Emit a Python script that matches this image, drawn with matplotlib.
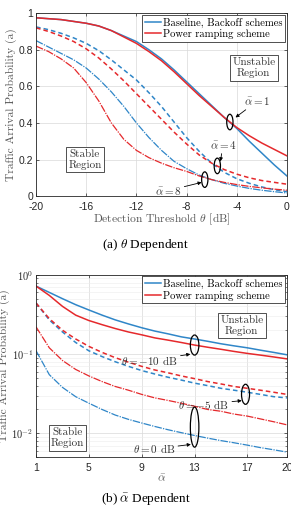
import numpy as np
import matplotlib
matplotlib.use("Agg")
import matplotlib.pyplot as plt
from matplotlib.patches import Ellipse
from matplotlib.ticker import FixedLocator, LogLocator, NullFormatter, FuncFormatter

plt.rcParams["mathtext.fontset"] = "cm"
plt.rcParams["axes.unicode_minus"] = False

BLUE = "#2f86c8"
RED = "#e5292c"
AXC = "#262626"
SERIF = "cmr10"
SANS = "Liberation Sans"

# ---- panel (a): theta dependent ----
theta = [-20, -19, -18, -17, -16, -15, -14, -13, -12, -11, -10,
         -9, -8, -7, -6, -5, -4, -3, -2, -1, 0]
a1_base = [.975, .97, .965, .955, .945, .93, .905, .875, .845, .80, .75,
           .69, .625, .56, .495, .43, .37, .30, .235, .17, .11]
a1_ramp = [.975, .97, .965, .955, .945, .93, .905, .87, .835, .79, .74,
           .68, .615, .55, .49, .43, .375, .33, .29, .255, .22]
a4_base = [.925, .91, .89, .865, .835, .795, .745, .69, .635, .565, .49,
           .405, .32, .245, .18, .13, .095, .07, .05, .035, .024]
a4_ramp = [.92, .90, .875, .845, .805, .755, .695, .63, .56, .49, .42,
           .35, .285, .225, .18, .145, .12, .10, .085, .075, .065]
a8_base = [.85, .815, .78, .745, .70, .64, .57, .49, .40, .32, .25,
           .19, .15, .115, .09, .07, .055, .042, .032, .024, .017]
a8_ramp = [.82, .79, .75, .70, .62, .52, .40, .31, .25, .21, .18,
           .155, .135, .11, .09, .075, .063, .053, .045, .038, .032]

# ---- panel (b): alpha dependent ----
alpha = list(range(1, 21))
t10_base = [.72, .60, .50, .42, .36, .31, .27, .24, .215, .195, .18, .165,
            .155, .145, .135, .127, .12, .112, .105, .098]
t10_ramp = [.72, .55, .40, .31, .265, .235, .21, .19, .175, .16, .15, .14,
            .13, .122, .115, .108, .102, .097, .092, .087]
t5_base = [.44, .27, .19, .14, .11, .093, .08, .07, .062, .056, .051, .047,
           .043, .040, .037, .035, .033, .031, .029, .028]
t5_ramp = [.44, .28, .20, .155, .125, .105, .09, .079, .07, .063, .058, .053,
           .049, .045, .042, .039, .037, .035, .033, .031]
t0_base = [.11, .055, .038, .029, .024, .020, .017, .015, .0135, .0122, .0111,
           .0102, .0094, .0087, .0081, .0076, .0071, .0066, .0062, .0058]
t0_ramp = [.22, .12, .083, .064, .053, .045, .039, .035, .031, .028, .026,
           .024, .022, .020, .019, .0175, .0165, .0152, .014, .0128]

FS = 8.0   # serif text size


def style(ax):
    ax.tick_params(direction="in", top=True, right=True, length=2.5,
                   width=0.5, colors=AXC, labelsize=7.5)
    ax.tick_params(axis="x", pad=4)
    ax.tick_params(axis="y", pad=2)
    ax.tick_params(which="minor", direction="in", top=True, right=True,
                   length=1.5, width=0.4, colors=AXC)
    for lab in ax.get_xticklabels() + ax.get_yticklabels():
        lab.set_fontfamily(SANS)
    for sp in ax.spines.values():
        sp.set_linewidth(0.6)
        sp.set_color(AXC)
    ax.grid(True, which="major", color="#d9d9d9", lw=0.5)


def boxed(ax, x, y, s):
    ax.text(x, y, s, transform=ax.transAxes, ha="center", va="center",
            fontsize=FS, family=SERIF, color="#333333", linespacing=1.15,
            bbox=dict(boxstyle="square,pad=0.2", fc="white", ec="#333333", lw=0.6))


def ring(ax, x, y, w, h, tr):
    ax.add_patch(Ellipse((x, y), w, h, transform=tr, fill=False, ec="black",
                         lw=0.9, zorder=5))


def note(ax, s, xy, xytext, ha):
    ax.annotate(s, xy=xy, xytext=xytext, xycoords="axes fraction",
                textcoords="axes fraction", ha=ha, va="center", fontsize=FS,
                family=SERIF, color="#333333",
                arrowprops=dict(arrowstyle="-|>", color="black", lw=0.6,
                                mutation_scale=5, shrinkA=0, shrinkB=0))


def legend(ax):
    leg = ax.legend(loc="upper right", prop=dict(family=SERIF, size=7.6),
                    handlelength=1.5, handletextpad=0.25, borderpad=0.25,
                    labelspacing=0.15, fancybox=False, borderaxespad=0.15)
    leg.get_frame().set_edgecolor("#333333")
    leg.get_frame().set_linewidth(0.6)
    leg.get_frame().set_alpha(1)


fig = plt.figure(figsize=(2.91, 5.08), dpi=100)

# panel (a)
ax = fig.add_axes([0.124, 0.614, 0.862, 0.360])
ax.plot(theta, a1_base, color=BLUE, lw=1.1, label="Baseline, Backoff schemes")
ax.plot(theta, a1_ramp, color=RED, lw=1.1, label="Power ramping scheme")
ax.plot(theta, a4_base, color=BLUE, lw=1.1, ls=(0, (3, 2)))
ax.plot(theta, a4_ramp, color=RED, lw=1.1, ls=(0, (3, 2)))
ax.plot(theta, a8_base, color=BLUE, lw=0.9, ls=(0, (6, 1, 1, 1)))
ax.plot(theta, a8_ramp, color=RED, lw=0.9, ls=(0, (6, 1, 1, 1)))
ax.set_xlim(-20, 0)
ax.set_ylim(0, 1)
ax.set_xticks([-20, -16, -12, -8, -4, 0])
ax.set_yticks([0, 0.2, 0.4, 0.6, 0.8, 1])
ax.set_yticklabels(["0", "0.2", "0.4", "0.6", "0.8", "1"])
style(ax)
ax.set_xlabel(r"Detection Threshold $\theta$ [dB]", family=SERIF, fontsize=FS + 0.3,
              color="#555555", labelpad=0)
ax.set_ylabel("Traffic Arrival Probability (a)", family=SERIF, fontsize=FS + 0.3,
              color="#555555", labelpad=1)
legend(ax)
boxed(ax, 0.868, 0.70, "Unstable\nRegion")
boxed(ax, 0.195, 0.20, "Stable\nRegion")
ring(ax, -4.55, 0.405, 0.5, 0.085, ax.transData)
ring(ax, -5.55, 0.165, 0.5, 0.085, ax.transData)
ring(ax, -6.55, 0.09, 0.5, 0.085, ax.transData)
note(ax, r"$\bar{\alpha} = 1$", (0.795, 0.43), (0.83, 0.52), "left")
note(ax, r"$\bar{\alpha} = 4$", (0.735, 0.19), (0.745, 0.28), "center")
note(ax, r"$\bar{\alpha} = 8$", (0.66, 0.075), (0.58, 0.03), "right")
fig.text(0.5, 0.517, r"(a) $\theta$ Dependent", ha="center", va="center",
         family="Liberation Serif", fontsize=9.5)

# panel (b)
bx = fig.add_axes([0.124, 0.100, 0.862, 0.359])
bx.semilogy(alpha, t10_base, color=BLUE, lw=1.1, label="Baseline, Backoff schemes")
bx.semilogy(alpha, t10_ramp, color=RED, lw=1.1, label="Power ramping scheme")
bx.semilogy(alpha, t5_base, color=BLUE, lw=1.1, ls=(0, (3, 2)))
bx.semilogy(alpha, t5_ramp, color=RED, lw=1.1, ls=(0, (3, 2)))
bx.semilogy(alpha, t0_base, color=BLUE, lw=0.9, ls=(0, (6, 1, 1, 1)))
bx.semilogy(alpha, t0_ramp, color=RED, lw=0.9, ls=(0, (6, 1, 1, 1)))
bx.set_xlim(1, 20)
bx.set_ylim(0.005, 1)
bx.xaxis.set_major_locator(FixedLocator([1, 5, 9, 13, 17, 20]))
bx.yaxis.set_major_locator(LogLocator(base=10))
bx.yaxis.set_major_formatter(FuncFormatter(
    lambda v, p: r"$\mathsf{10^{%d}}$" % round(np.log10(v))))
bx.yaxis.set_minor_locator(LogLocator(base=10, subs=np.arange(2, 10)))
bx.yaxis.set_minor_formatter(NullFormatter())
style(bx)
bx.grid(True, which="minor", axis="y", color="#ececec", lw=0.4)
bx.set_xlabel(r"$\bar{\alpha}$", fontsize=FS + 0.3, color="#555555", labelpad=0)
bx.set_ylabel("Traffic Arrival Probability (a)", family=SERIF, fontsize=FS + 0.3,
              color="#555555", labelpad=1)
legend(bx)
boxed(bx, 0.82, 0.72, "Unstable\nRegion")
boxed(bx, 0.125, 0.105, "Stable\nRegion")
ring(bx, 0.632, 0.615, 0.034, 0.11, bx.transAxes)
ring(bx, 0.835, 0.345, 0.032, 0.11, bx.transAxes)
ring(bx, 0.632, 0.165, 0.034, 0.22, bx.transAxes)
note(bx, r"$\theta = -10$ dB", (0.615, 0.565), (0.565, 0.53), "right")
note(bx, r"$\theta = -5$ dB", (0.82, 0.31), (0.77, 0.29), "right")
note(bx, r"$\theta = 0$ dB", (0.617, 0.07), (0.555, 0.045), "right")
fig.text(0.5, 0.016, r"(b) $\bar{\alpha}$ Dependent", ha="center", va="center",
         family="Liberation Serif", fontsize=9.5)

fig.savefig("out.png", dpi=100)
